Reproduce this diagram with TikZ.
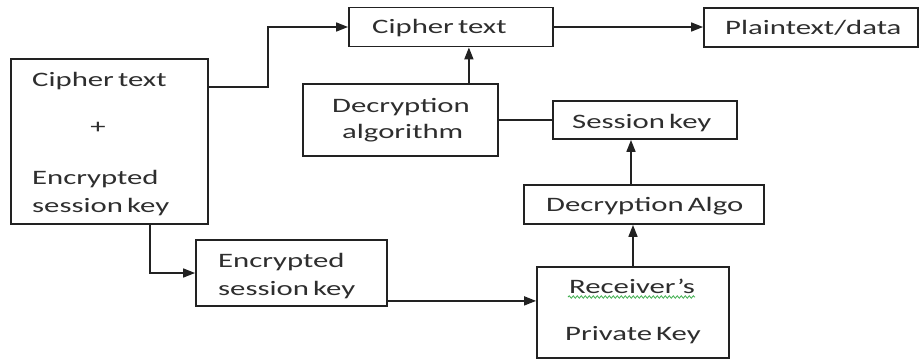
\documentclass[tikz,border=0pt]{standalone}
\usepackage{fontspec}
\setmainfont[FakeStretch=1.5,WordSpace=0.6]{Carlito}
\usetikzlibrary{arrows.meta,calc,decorations.pathmorphing}
\definecolor{ink}{HTML}{222222}
\definecolor{txt}{HTML}{2E2E2E}
\definecolor{spell}{HTML}{3FAF4F}
\begin{document}
\begin{tikzpicture}[x=1pt,y=-1pt,
  box/.style={draw=ink,line width=1.8pt,fill=white,inner sep=0pt},
  lbl/.style={text=txt,inner sep=0pt,anchor=base west,font=\fontsize{20.5}{24}\selectfont},
  conn/.style={draw=ink,line width=1.6pt},
  arr/.style={conn,-{Triangle[length=12pt,width=9pt]}}]
\useasboundingbox[fill=white] (0,0) rectangle (920,360);

% boxes
\node[box,minimum width=197pt,minimum height=165pt] (A) at (109.5,141.5) {};
\node[box,minimum width=204pt,minimum height=39pt]  (B) at (451,27) {};
\node[box,minimum width=214pt,minimum height=39pt]  (C) at (811,27.5) {};
\node[box,minimum width=195pt,minimum height=72pt]  (D) at (400.5,120) {};
\node[box,minimum width=184pt,minimum height=38pt]  (E) at (645,120) {};
\node[box,minimum width=240pt,minimum height=39pt]  (F) at (644,204.5) {};
\node[box,minimum width=192pt,minimum height=91pt]  (G) at (633,312.5) {};
\node[box,minimum width=191pt,minimum height=66pt]  (H) at (291.5,273) {};

% labels
\node[lbl] (a1) at (32,86) {Cipher text};
\node[text=txt,inner sep=0pt,font=\fontsize{20.5}{24}\selectfont] (a2) at (98,128) {+};
\node[lbl] (a3) at (32,184) {Encrypted};
\node[lbl] (a4) at (32,212) {session key};
\node[lbl] (b1) at (372,33) {Cipher text};
\node[lbl] (c1) at (725,34) {Plaintext/data};
\node[lbl] (d1) at (332,112) {Decryption};
\node[lbl] (d2) at (342,138) {algorithm};
\node[lbl] (e1) at (572,128) {Session key};
\node[lbl] (f1) at (546,211) {Decryption Algo};
\node[lbl] (g1) at (569,293) {Receiver’s};
\node[lbl] (g2) at (565,340) {Private Key};
\node[lbl] (h1) at (218,267) {Encrypted};
\node[lbl] (h2) at (218,295) {session key};

% spell-check squiggle under the receiver label
\draw[spell,line width=0.8pt,decorate,decoration={snake,amplitude=1.2pt,segment length=4pt}]
  ($(g1.base west)+(-1,4)$) -- ($(g1.base east)+(0,4)$);

% connectors
\coordinate (aout) at ($(A.north east)+(0,29)$);
\draw[arr] (aout) -- ++(59,0) |- (B.west);
\draw[arr] (B.east) -- (B.east -| C.west);
\coordinate (dtop) at ($(D.north east)+(-30,0)$);
\draw[arr] (dtop) -- (dtop |- B.south);
\draw[conn] (D.east) -- (E.west);
\coordinate (esb) at ($(E.south)+(-14,0)$);
\draw[arr] (esb |- F.north) -- (esb);
\draw[arr] (G.north) -- (G.north |- F.south);
\coordinate (abot) at ($(A.south west)+(140,0)$);
\draw[arr] (abot) |- (H.west);
\coordinate (hout) at ($(H.south east)+(0,-6)$);
\draw[arr] (hout) -- (hout -| G.west);
\end{tikzpicture}
\end{document}
